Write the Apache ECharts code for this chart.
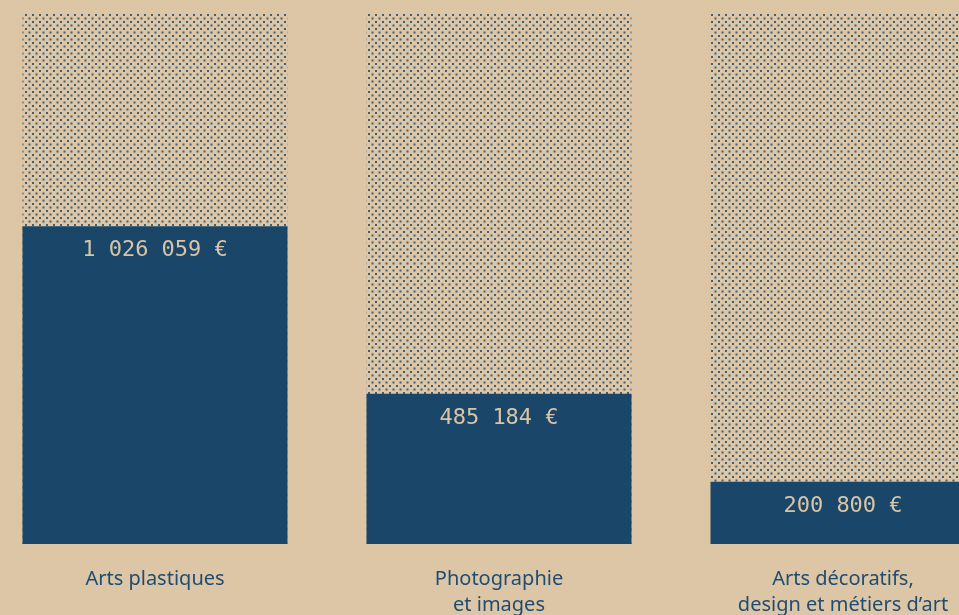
<!DOCTYPE html>
<html>
<head>
<meta charset="utf-8">
<script src="https://cdn.jsdelivr.net/npm/echarts@6/dist/echarts.min.js"></script>
<style>
  html, body { margin: 0; padding: 0; background: #dcc6a5; overflow: hidden; }
  /* chart is wider than the window: the last column runs off the right edge */
  #chart { width: 1032px; height: 615px; margin-left: -17.5px; }
</style>
</head>
<body>
<div id="chart"></div>
<script>
const categories = ['Arts plastiques', 'Photographie\net images', 'Arts décoratifs,\ndesign et métiers d’art']
const amounts = [1026059, 485184, 200800]
// total of the three, used as the dotted background column
const total = amounts.reduce((a, b) => a + b, 0)
const totals = categories.map(() => total)

const blue = '#1a4669'
const beige = '#dcc6a5'

// dotted pattern for the background columns
function makePattern() {
  const c = document.createElement('canvas')
  c.width = 7
  c.height = 7
  const ctx = c.getContext('2d')
  ctx.fillStyle = beige
  ctx.fillRect(0, 0, 7, 7)
  ctx.fillStyle = '#3f5f74'
  ctx.fillRect(0, 0, 2, 2)
  ctx.fillRect(3.5, 3.5, 2, 2)
  return c
}

function fmt(v) {
  return String(v).replace(/\B(?=(\d{3})+(?!\d))/g, ' ') + ' €'
}

const myChart = echarts.init(document.getElementById('chart'))
myChart.setOption({
  backgroundColor: beige,
  animation: false,
  grid: { left: 0, right: 0, top: 14, bottom: 71, outerBoundsMode: 'none' },
  xAxis: {
    type: 'category',
    data: categories,
    axisLine: { show: false },
    axisTick: { show: false },
    axisLabel: {
      color: '#1f4c72',
      fontFamily: 'Noto Sans',
      fontSize: 20,
      lineHeight: 26,
      margin: 22,
      interval: 0
    }
  },
  yAxis: {
    type: 'value',
    min: 0,
    max: total,
    show: false,
    splitLine: { show: false }
  },
  series: [
    {
      type: 'bar',
      data: totals,
      barWidth: 265,
      silent: true,
      itemStyle: { color: { image: makePattern(), repeat: 'repeat' } }
    },
    {
      type: 'bar',
      data: amounts,
      barWidth: 265,
      barGap: '-100%',
      itemStyle: { color: blue },
      label: {
        show: true,
        position: 'insideTop',
        distance: 13,
        color: '#d9c5a5',
        fontFamily: 'DejaVu Sans Mono',
        fontSize: 22,
        formatter: p => fmt(p.value)
      }
    }
  ]
})
</script>
</body>
</html>
